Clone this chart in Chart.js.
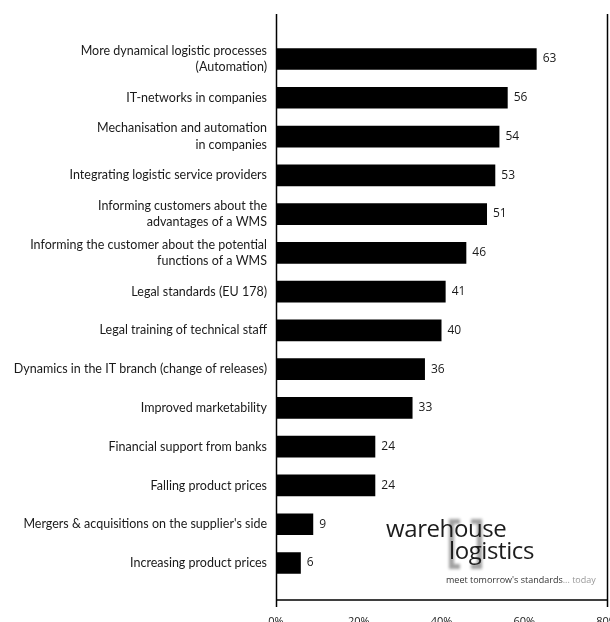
<!DOCTYPE html>
<html>
<head>
<meta charset="utf-8">
<script src="https://cdn.jsdelivr.net/npm/chart.js@4/dist/chart.umd.min.js"></script>
<style>
  html, body { margin: 0; padding: 0; background: #fff; overflow: hidden; }
  #wrap { position: relative; width: 610px; height: 622px; overflow: hidden; }
  #wrap canvas { position: absolute; left: 0; top: 0; }
  .logo { position: absolute; font-family: "Open Sans", sans-serif; color: #1c1c1c; white-space: nowrap; }
  .bracket { position: absolute; border: 5px solid #808080; filter: blur(1.6px); opacity: 0.75; }
</style>
</head>
<body>
<div id="wrap">
  <canvas id="chart" width="610" height="622"></canvas>
  <div class="bracket" style="left:449px; top:519px; width:6px; height:40px; border-right:none;"></div>
  <div class="bracket" style="left:471px; top:519px; width:6px; height:40px; border-left:none;"></div>
  <div class="logo" style="left:386px; top:511px; font-size:24px; letter-spacing:-0.4px;">warehouse</div>
  <div class="logo" style="left:449px; top:533px; font-size:24px; letter-spacing:-0.4px;">logistics</div>
  <div class="logo" style="left:446px; top:573px; font-size:9px; color:#333;">meet tomorrow's standards<span style="color:#999">... today</span></div>
</div>
<script>
// categories, top to bottom
const categories = [
    ['More dynamical logistic processes', '(Automation)'],
    'IT-networks in companies',
    ['Mechanisation and automation', 'in companies'],
    'Integrating logistic service providers',
    ['Informing customers about the', 'advantages of a WMS'],
    ['Informing the customer about the potential', 'functions of a WMS'],
    'Legal standards (EU 178)',
    'Legal training of technical staff',
    'Dynamics in the IT branch (change of releases)',
    'Improved marketability',
    'Financial support from banks',
    'Falling product prices',
    "Mergers & acquisitions on the supplier's side",
    'Increasing product prices'
];
const values = [63, 56, 54, 53, 51, 46, 41, 40, 36, 33, 24, 24, 9, 6];
const xTicks = [0, 20, 40, 60, 80];

// axis frame: left/right verticals and bottom line, placed from the x scale
const framePlugin = {
    id: 'frame',
    afterDraw(chart) {
        const ctx = chart.ctx;
        const xs = chart.scales.x;
        const l = Math.round(xs.getPixelForValue(xTicks[0])) + 0.5;
        const r = Math.round(xs.getPixelForValue(xTicks[xTicks.length - 1])) + 0.5;
        ctx.save();
        ctx.strokeStyle = '#000';
        ctx.lineWidth = 1.5;
        ctx.beginPath();
        ctx.moveTo(l, 14); ctx.lineTo(l, 607);
        ctx.moveTo(r, 14); ctx.lineTo(r, 607);
        ctx.moveTo(l, 600); ctx.lineTo(r, 600);
        ctx.stroke();
        ctx.restore();
    }
};

// value next to each bar
const valueLabels = {
    id: 'valueLabels',
    afterDatasetsDraw(chart) {
        const ctx = chart.ctx;
        const meta = chart.getDatasetMeta(0);
        ctx.save();
        ctx.font = '12px "Open Sans", sans-serif';
        ctx.fillStyle = '#1a1a1a';
        ctx.textBaseline = 'middle';
        ctx.textAlign = 'left';
        meta.data.forEach((bar, i) => {
            ctx.fillText(String(values[i]), bar.x + 6, bar.y);
        });
        ctx.restore();
    }
};

const ctx = document.getElementById('chart').getContext('2d');
new Chart(ctx, {
    type: 'bar',
    data: {
        labels: categories,
        datasets: [{
            data: values,
            backgroundColor: '#000',
            borderWidth: 0,
            categoryPercentage: 1,
            barPercentage: 0.56
        }]
    },
    options: {
        indexAxis: 'y',
        responsive: false,
        animation: false,
        layout: { padding: { top: 39.6, left: 0, right: 3, bottom: 0 } },
        plugins: { legend: { display: false }, tooltip: { enabled: false } },
        scales: {
            x: {
                min: 0,
                max: 80,
                afterBuildTicks: s => { s.ticks = xTicks.map(v => ({ value: v })); },
                afterFit: s => { s.height = 39.6; s.paddingLeft = 0; s.paddingRight = 0; },
                grid: { display: false, drawTicks: false },
                border: { display: false },
                ticks: {
                    padding: 32.6,
                    color: '#1a1a1a',
                    font: { family: '"Open Sans", sans-serif', size: 11 },
                    callback: v => v + '%'
                }
            },
            y: {
                afterFit: s => { s.width = 276; },
                grid: { display: false, drawTicks: false },
                border: { display: false },
                ticks: {
                    padding: 9,
                    autoSkip: false,
                    color: '#1a1a1a',
                    font: { family: 'Lato, sans-serif', size: 12.5, lineHeight: 1.3 }
                }
            }
        }
    },
    plugins: [framePlugin, valueLabels]
});
</script>
</body>
</html>
